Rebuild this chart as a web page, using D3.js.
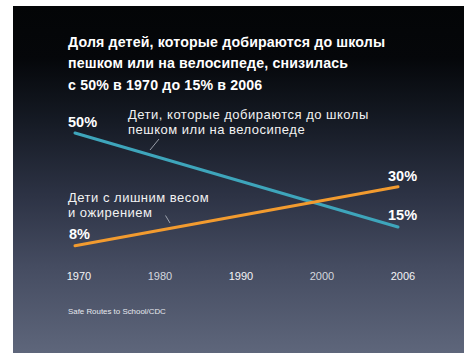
<!DOCTYPE html>
<html>
<head>
<meta charset="utf-8">
<script src="https://cdn.jsdelivr.net/npm/d3@7"></script>
<style>
html,body{margin:0;padding:0;background:#fff;}
svg{display:block;}
text{font-family:"Liberation Sans",Arial,Helvetica,sans-serif;}
</style>
</head>
<body>
<svg id="chart" width="464" height="353"></svg>
<script>
// ---- data ----
const years = [1970, 2006];
const walkBike = [50, 15];      // % детей, добирающихся пешком/на велосипеде
const obesity = [8, 30];        // % детей с лишним весом и ожирением
const tickLabels = ["1970", "1980", "1990", "2000", "2006"];
const titleLines = [
  "Доля детей, которые добираются до школы",
  "пешком или на велосипеде, снизилась",
  "с 50% в 1970 до 15% в 2006"
];
const walkLabel = ["Дети, которые добираются до школы", "пешком или на велосипеде"];
const obesityLabel = ["Дети с лишним весом", "и ожирением"];
const source = "Safe Routes to School/CDC";

// ---- layout ----
const W = 464, H = 353;
const svg = d3.select("#chart");
const defs = svg.append("defs");
const grad = defs.append("linearGradient").attr("id", "bg")
  .attr("x1", 0).attr("y1", 0).attr("x2", 0).attr("y2", 1);
[[0, "#030506"], [0.15, "#05070a"], [0.33, "#151a24"], [0.55, "#2d3345"], [0.75, "#454c61"], [1, "#5e667b"]]
  .forEach(([o, c]) => grad.append("stop").attr("offset", o).attr("stop-color", c));

svg.append("rect").attr("x", 13).attr("y", 6).attr("width", W - 13).attr("height", H - 6)
  .attr("fill", "url(#bg)");

const x = d3.scaleLinear().domain(d3.extent(years)).range([75, 398]);
const y = d3.scaleLinear().domain([0, 50]).range([267.3, 133]);
const xTick = d3.scalePoint().domain(tickLabels).range([79, 403]);

// title
const title = svg.append("text").attr("x", 68).attr("y", 46.5)
  .attr("fill", "#ffffff").attr("font-weight", "bold").attr("font-size", 14.2)
  .attr("letter-spacing", 0.15);
titleLines.forEach((t, i) => title.append("tspan").attr("x", 68).attr("dy", i ? 21.7 : 0).text(t));

// lines
const line = d3.line().x((d, i) => x(years[i])).y(d => y(d));
svg.append("path").datum(walkBike).attr("d", line)
  .attr("fill", "none").attr("stroke", "#3ea5bb").attr("stroke-width", 3).attr("stroke-linecap", "round");
svg.append("path").datum(obesity).attr("d", line)
  .attr("fill", "none").attr("stroke", "#f29b2f").attr("stroke-width", 3).attr("stroke-linecap", "round");

// value labels
const valStyle = s => s.attr("fill", "#ffffff").attr("font-weight", "bold").attr("font-size", 14.5);
svg.append("text").attr("x", x(years[0]) - 7).attr("y", y(walkBike[0]) - 6).text(walkBike[0] + "%").call(valStyle);
svg.append("text").attr("x", x(years[0]) - 6).attr("y", y(obesity[0]) - 6.5).text(obesity[0] + "%").call(valStyle);
svg.append("text").attr("x", x(years[1]) - 10).attr("y", y(obesity[1]) - 5.5).text(obesity[1] + "%").call(valStyle);
svg.append("text").attr("x", x(years[1]) - 10).attr("y", y(walkBike[1]) - 7).text(walkBike[1] + "%").call(valStyle);

// series annotations
const annStyle = s => s.attr("fill", "#f2f2f2").attr("font-size", 13).attr("letter-spacing", 0.5);
const ann1 = svg.append("text").call(annStyle);
walkLabel.forEach((t, i) => ann1.append("tspan").attr("x", 128).attr("y", 118.5 + i * 15).text(t));
const ann2 = svg.append("text").call(annStyle);
obesityLabel.forEach((t, i) => ann2.append("tspan").attr("x", 68).attr("y", 201.5 + i * 15).text(t));

// leader ticks
svg.append("line").attr("x1", 159).attr("y1", 139).attr("x2", 150).attr("y2", 150)
  .attr("stroke", "#b8bcc6").attr("stroke-width", 0.8);
svg.append("line").attr("x1", 165.5).attr("y1", 215.5).attr("x2", 170).attr("y2", 223)
  .attr("stroke", "#b8bcc6").attr("stroke-width", 0.8);

// x tick labels
svg.append("g").selectAll("text").data(tickLabels).join("text")
  .attr("x", d => xTick(d)).attr("y", 279.5).attr("text-anchor", "middle")
  .attr("font-size", 11).attr("fill", (d, i) => i % 2 ? "#d4d7de" : "#f4f4f6")
  .text(d => d);

// source
svg.append("text").attr("x", 68).attr("y", 314).attr("font-size", 7.9).attr("fill", "#e6e8ee").text(source);
</script>
</body>
</html>
